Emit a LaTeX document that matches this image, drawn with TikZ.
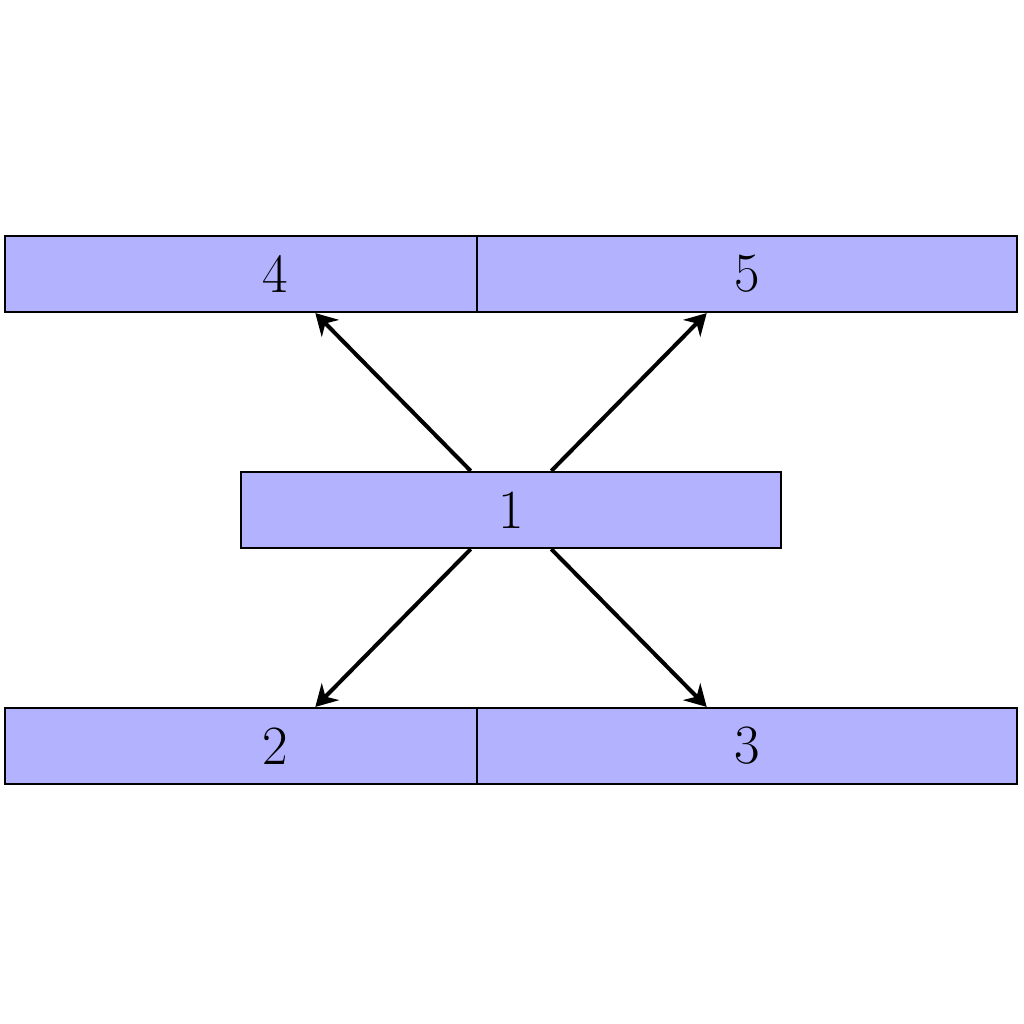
\documentclass[tikz,border=0pt]{standalone}
\usetikzlibrary{arrows.meta}
\begin{document}
\begin{tikzpicture}[font=\huge,
    cell/.style={draw, thick, fill=blue!30, minimum width=7.1cm, minimum height=1cm, inner sep=0pt},
    link/.style={-{Stealth[length=8pt, width=9pt]}, line width=1.5pt}]
    \useasboundingbox (-6.724, -6.763) rectangle (6.750, 6.711);
    % Middle block
    \node[cell] (one) at (0, 0) {1};
    % Top row (right block drawn over the left one)
    \node[cell] (four) at (-3.105, 3.105) {4};
    \node[cell] (five) at (3.105, 3.105) {5};
    % Bottom row
    \node[cell] (two) at (-3.105, -3.105) {2};
    \node[cell] (three) at (3.105, -3.105) {3};

    % Links
    \draw[link] ([xshift=-0.53cm]one.north) -- ([xshift=0.53cm]four.south);
    \draw[link] ([xshift=0.53cm]one.north) -- ([xshift=-0.53cm]five.south);
    \draw[link] ([xshift=-0.53cm]one.south) -- ([xshift=0.53cm]two.north);
    \draw[link] ([xshift=0.53cm]one.south) -- ([xshift=-0.53cm]three.north);
\end{tikzpicture}
\end{document}
